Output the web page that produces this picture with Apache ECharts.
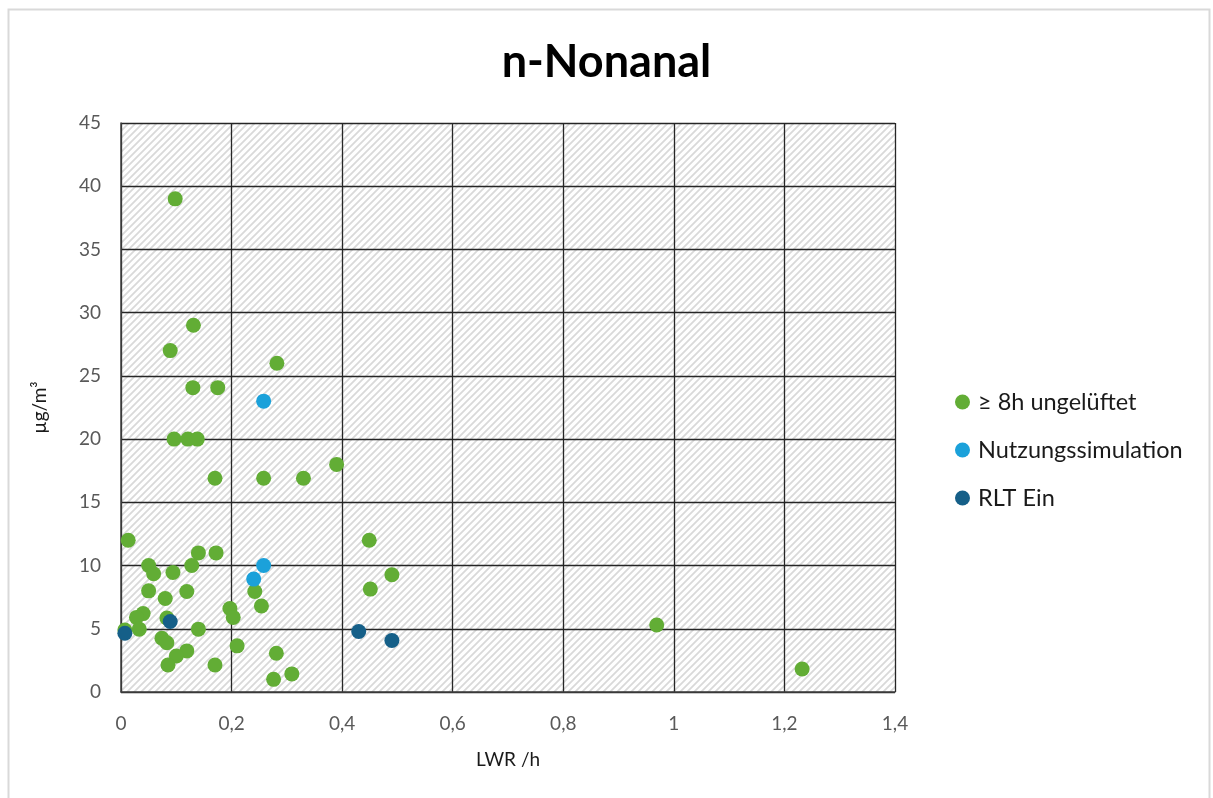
<!DOCTYPE html>
<html>
<head>
<meta charset="utf-8">
<script src="https://cdn.jsdelivr.net/npm/echarts@6/dist/echarts.min.js"></script>
<style>
  html, body { margin: 0; padding: 0; background: #fff; }
  #chart { width: 1213px; height: 798px; }
</style>
</head>
<body>
<div id="chart"></div>
<script>
// Air change rate (LWR /h) vs. n-Nonanal concentration (µg/m³)
const seriesNames = ['≥ 8h ungelüftet', 'Nutzungssimulation', 'RLT Ein'];

const unventilatedX = [0.013, 0.14, 0.172, 0.05, 0.059, 0.094, 0.128, 0.242, 0.05, 0.119, 0.08, 0.254,
  0.197, 0.203, 0.04, 0.028, 0.083, 0.033, 0.007, 0.14, 0.074, 0.083, 0.21, 0.119, 0.1, 0.085, 0.17,
  0.281, 0.309, 0.276, 0.131, 0.089, 0.282, 0.13, 0.175, 0.096, 0.121, 0.138, 0.17, 0.258, 0.33,
  0.39, 0.098, 0.449, 0.49, 0.451, 0.969, 1.232];
const unventilatedY = [12.0, 11.0, 11.0, 10.0, 9.35, 9.45, 10.0, 7.95, 8.0, 7.95, 7.4, 6.8,
  6.6, 5.9, 6.2, 5.9, 5.85, 4.97, 4.9, 4.97, 4.25, 3.9, 3.65, 3.25, 2.85, 2.14, 2.14,
  3.07, 1.43, 1.0, 29.0, 27.0, 26.0, 24.07, 24.07, 20.0, 20.0, 20.0, 16.9, 16.9, 16.9,
  18.0, 39.0, 12.0, 9.27, 8.14, 5.3, 1.82];

const simulationX = [0.258, 0.24, 0.258];
const simulationY = [10.0, 8.93, 23.0];

const rltX = [0.089, 0.007, 0.43, 0.49];
const rltY = [5.57, 4.65, 4.78, 4.07];

const xTicks = { min: 0, max: 1.4, interval: 0.2 };
const yTicks = { min: 0, max: 45, interval: 5 };

const colors = ['#62AD35', '#1BA1DA', '#155F88'];

function pairs(xs, ys) {
  return xs.map((x, i) => [x, ys[i]]);
}

// diagonal hatch fill for the plot area
function hatchPattern() {
  const s = 7;
  const c = document.createElement('canvas');
  c.width = s; c.height = s;
  const g = c.getContext('2d');
  g.fillStyle = '#ffffff';
  g.fillRect(0, 0, s, s);
  g.strokeStyle = '#d9d9d9';
  g.lineWidth = 1.8;
  g.beginPath();
  g.moveTo(0, s); g.lineTo(s, 0);
  g.moveTo(-s / 2, s / 2); g.lineTo(s / 2, -s / 2);
  g.moveTo(s / 2, s + s / 2); g.lineTo(s + s / 2, s / 2);
  g.stroke();
  return { image: c, repeat: 'repeat' };
}

const fmt = v => String(+(+v).toFixed(1)).replace('.', ',');
const font = 'Lato, "Open Sans", sans-serif';

const chart = echarts.init(document.getElementById('chart'), null, { renderer: 'canvas' });

chart.setOption({
  animation: false,
  backgroundColor: '#ffffff',
  color: colors,
  title: {
    text: 'n-Nonanal',
    left: 'center',
    top: 40,
    textStyle: { fontFamily: font, fontSize: 45, fontWeight: 'bold', color: '#000' },
    padding: 0,
    itemGap: 0
  },
  graphic: [{
    type: 'rect',
    shape: { x: 8.5, y: 9.5, width: 1201, height: 800 },
    style: { fill: 'none', stroke: '#d9d9d9', lineWidth: 2 },
    silent: true
  }],
  legend: {
    orient: 'vertical',
    left: 950,
    top: 385,
    itemGap: 24,
    itemWidth: 15,
    itemHeight: 15,
    icon: 'circle',
    data: seriesNames,
    textStyle: { fontFamily: font, fontSize: 23.5, color: '#1a1a1a', padding: [0, 0, 0, 3] }
  },
  grid: {
    left: 121,
    right: 318,
    top: 123,
    bottom: 106,
    show: true,
    backgroundColor: hatchPattern(),
    borderWidth: 0
  },
  xAxis: {
    type: 'value',
    min: xTicks.min,
    max: xTicks.max,
    interval: xTicks.interval,
    name: 'LWR /h',
    nameLocation: 'middle',
    nameGap: 58,
    nameTextStyle: { fontFamily: font, fontSize: 19, color: '#1a1a1a' },
    axisLine: { show: true, lineStyle: { color: '#404040', width: 1.5 } },
    axisTick: { show: false },
    splitLine: { show: true, lineStyle: { color: '#262626', width: 1.3 } },
    axisLabel: {
      formatter: fmt,
      margin: 22,
      fontFamily: font,
      fontSize: 19,
      color: '#595959'
    }
  },
  yAxis: {
    type: 'value',
    min: yTicks.min,
    max: yTicks.max,
    interval: yTicks.interval,
    name: 'µg/m³',
    nameLocation: 'middle',
    nameGap: 72,
    nameRotate: 90,
    nameTextStyle: { fontFamily: font, fontSize: 19, color: '#1a1a1a' },
    axisLine: { show: true, lineStyle: { color: '#404040', width: 1.5 } },
    axisTick: { show: false },
    splitLine: { show: true, lineStyle: { color: '#262626', width: 1.3 } },
    axisLabel: {
      formatter: fmt,
      margin: 20,
      fontFamily: font,
      fontSize: 19,
      color: '#595959'
    }
  },
  series: [
    {
      name: seriesNames[0],
      type: 'scatter',
      symbolSize: 15,
      itemStyle: { color: colors[0], opacity: 1 },
      data: pairs(unventilatedX, unventilatedY),
      z: 3
    },
    {
      name: seriesNames[1],
      type: 'scatter',
      symbolSize: 15,
      itemStyle: { color: colors[1], opacity: 1 },
      data: pairs(simulationX, simulationY),
      z: 4
    },
    {
      name: seriesNames[2],
      type: 'scatter',
      symbolSize: 15,
      itemStyle: { color: colors[2], opacity: 1 },
      data: pairs(rltX, rltY),
      z: 5
    }
  ]
});
</script>
</body>
</html>
